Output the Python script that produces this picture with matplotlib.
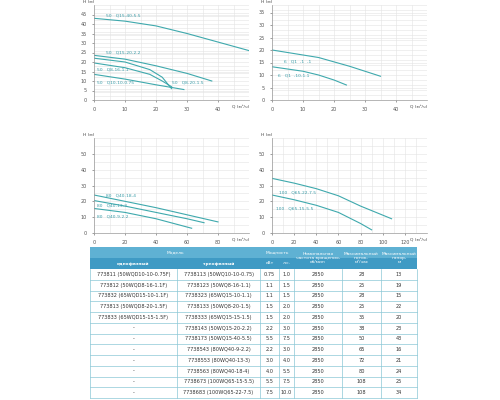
import matplotlib
matplotlib.use("Agg")
import matplotlib.pyplot as plt
from matplotlib.patches import Rectangle

W, H = 500, 400
CURVE = "#3fa9ad"
TXT = "#3a9ca8"

# chart 1 (Q in m3/h, H in m)
c1_names = ["50   Q15-40-5.5", "50   Q15-20-2.2", "50   Q8-20-1.5", "50   Q8-16-1.1", "50   Q10-10-0.75"]
c1_q = [[0, 10, 20, 30, 40, 50], [0, 10, 20, 30, 38], [0, 10, 18, 22, 25], [0, 10, 18, 22, 25], [0, 10, 20, 29]]
c1_h = [[43, 41.5, 39, 35, 30.5, 26], [23.5, 21.5, 18, 14, 10], [22, 20, 16, 12, 6], [19.5, 17, 13.5, 10, 7], [13.5, 11, 8, 5.5]]
c1_lab = [(4, 44), (4, 24.5), (25, 8.5), (1, 15.5), (1, 8.5)]
# chart 2
c2_names = ["6   Q1  -1  -1", "6   Q1  -10-1.1"]
c2_q = [[0, 10, 15, 25, 35], [0, 10, 15, 20, 24]]
c2_h = [[20, 18, 17, 13.5, 9.5], [13.3, 11.5, 10, 8, 6]]
c2_lab = [(4, 15), (2, 9.5)]
# chart 3
c3_names = ["80   Q40-18-4", "80   Q40-13-3", "80   Q40-9-2.2"]
c3_q = [[0, 20, 40, 60, 80], [0, 20, 40, 60, 71], [0, 20, 40, 63]]
c3_h = [[24, 20, 16, 11.5, 7], [20.5, 17, 13, 9, 6.5], [15.5, 13, 9, 3]]
c3_lab = [(8, 23), (2, 17), (2, 10)]
# chart 4
c4_names = ["100   Q65-22-7.5", "100   Q65-15-5.5"]
c4_q = [[0, 20, 40, 60, 80, 108], [0, 20, 40, 60, 80, 90]]
c4_h = [[34.5, 31.5, 28, 23.5, 17, 9], [24, 21, 17.5, 13, 6, 2]]
c4_lab = [(6, 25), (4, 15)]

# table
one_phase = ["773811 (50WQD10-10-0.75F)", "773812 (50WQD8-16-1.1F)", "773832 (65WQD15-10-1.1F)",
             "773813 (50WQD8-20-1.5F)", "773833 (65WQD15-15-1.5F)"] + ["-"] * 7
three_phase = ["7738113 (50WQ10-10-0.75)", "7738123 (50WQ8-16-1.1)", "7738323 (65WQ15-10-1.1)",
               "7738133 (50WQ8-20-1.5)", "7738333 (65WQ15-15-1.5)", "7738143 (50WQ15-20-2.2)",
               "7738173 (50WQ15-40-5.5)", "7738543 (80WQ40-9-2.2)", "7738553 (80WQ40-13-3)",
               "7738563 (80WQ40-18-4)", "7738673 (100WQ65-15-5.5)", "7738683 (100WQ65-22-7.5)"]
kw = ["0.75", "1.1", "1.1", "1.5", "1.5", "2.2", "5.5", "2.2", "3.0", "4.0", "5.5", "7.5"]
hp = ["1.0", "1.5", "1.5", "2.0", "2.0", "3.0", "7.5", "3.0", "4.0", "5.5", "7.5", "10.0"]
rpm = ["2850"] * 12
qmax = ["28", "25", "28", "25", "35", "38", "50", "65", "72", "80", "108", "108"]
hmax = ["13", "19", "15", "22", "20", "23", "43", "16", "21", "24", "25", "34"]

fig = plt.figure(figsize=(5, 4), dpi=100)


def px_axes(x0, y0, x1, y1):
    return fig.add_axes([x0 / W, 1 - y1 / H, (x1 - x0) / W, (y1 - y0) / H])


def chart(box, names, qs, hs, labs, xmax, xstep, ymax, ystep):
    ax = px_axes(*box)
    for q, h in zip(qs, hs):
        ax.plot(q, h, color=CURVE, lw=0.8)
    for n, (lx, ly) in zip(names, labs):
        ax.text(lx, ly, n, fontsize=3.2, color=TXT)
    ax.set_xlim(0, xmax)
    ax.set_ylim(0, ymax)
    ax.set_xticks(range(0, xmax, xstep))
    ax.set_yticks(range(0, ymax, ystep))
    ax.set_xticks(range(0, xmax + 1, xstep // 2), minor=True)
    ax.set_yticks(range(0, ymax + 1, max(ystep // 2, 1)), minor=True)
    ax.grid(True, which="both", color="#e4e4e4", lw=0.4)
    for s in ["top", "right"]:
        ax.spines[s].set_visible(False)
    for s in ["left", "bottom"]:
        ax.spines[s].set_color("#999999")
        ax.spines[s].set_linewidth(0.5)
    ax.tick_params(labelsize=3.5, length=1.5, width=0.4, colors="#555555", which="major")
    ax.tick_params(length=0, which="minor")
    ax.text(0, 1.02, "H (м)", transform=ax.transAxes, fontsize=3.2, ha="right", color="#444444")
    ax.text(1.0, -0.06, "Q (м³/ч)", transform=ax.transAxes, fontsize=3.2, ha="right", va="top", color="#444444")
    ax.set_axisbelow(True)


chart((94, 5, 249, 100), c1_names, c1_q, c1_h, c1_lab, 50, 10, 50, 5)
chart((272, 5, 427, 100), c2_names, c2_q, c2_h, c2_lab, 50, 10, 38, 5)
chart((94, 138, 249, 233), c3_names, c3_q, c3_h, c3_lab, 100, 20, 60, 10)
chart((272, 138, 427, 233), c4_names, c4_q, c4_h, c4_lab, 140, 20, 60, 10)

# table drawn in pixel coordinates
tx = px_axes(0, 0, W, H)
tx.set_xlim(0, W)
tx.set_ylim(H, 0)
tx.axis("off")
cols = [90, 177, 260, 279, 294, 342, 381, 417]
HEAD1, HEAD2 = "#5fb1d3", "#3f9ac4"
top, mid, hb = 247, 258, 269
rh = (398 - hb) / 12
tx.add_patch(Rectangle((cols[0], top), cols[-1] - cols[0], mid - top, color=HEAD1, lw=0))
tx.add_patch(Rectangle((cols[0], mid), cols[-1] - cols[0], hb - mid, color=HEAD2, lw=0))
hs = dict(fontsize=3.2, color="white", ha="center", va="center")
tx.text((cols[0] + cols[2]) / 2, (top + mid) / 2, "Модель", **hs)
tx.text((cols[2] + cols[4]) / 2, (top + mid) / 2, "Мощность", **hs)
tx.text((cols[0] + cols[1]) / 2, (mid + hb) / 2, "однофазный", fontweight="bold", **{k: v for k, v in hs.items()})
tx.text((cols[1] + cols[2]) / 2, (mid + hb) / 2, "трехфазный", fontweight="bold", **hs)
tx.text((cols[2] + cols[3]) / 2, (mid + hb) / 2, "кВт", **hs)
tx.text((cols[3] + cols[4]) / 2, (mid + hb) / 2, "л.с.", **hs)
tx.text((cols[4] + cols[5]) / 2, (top + hb) / 2, "Номинальная\nчастота вращения,\nоб/мин", linespacing=0.9, **hs)
tx.text((cols[5] + cols[6]) / 2, (top + hb) / 2, "Максимальный\nпоток,\nм³/час", linespacing=0.9, **hs)
tx.text((cols[6] + cols[7]) / 2, (top + hb) / 2, "Максимальный\nнапор,\nм", linespacing=0.9, **hs)
rows = list(zip(one_phase, three_phase, kw, hp, rpm, qmax, hmax))
for i, r in enumerate(rows):
    yc = hb + rh * (i + 0.5)
    for j, v in enumerate(r):
        tx.text((cols[j] + cols[j + 1]) / 2, yc, v, fontsize=3.6, color="#333333", ha="center", va="center")
    tx.plot([cols[0], cols[-1]], [hb + rh * (i + 1)] * 2, color="#8cc7d6", lw=0.5)
for c in cols:
    tx.plot([c, c], [hb, 398], color="#8cc7d6", lw=0.5)

fig.savefig("out.png", dpi=100)
